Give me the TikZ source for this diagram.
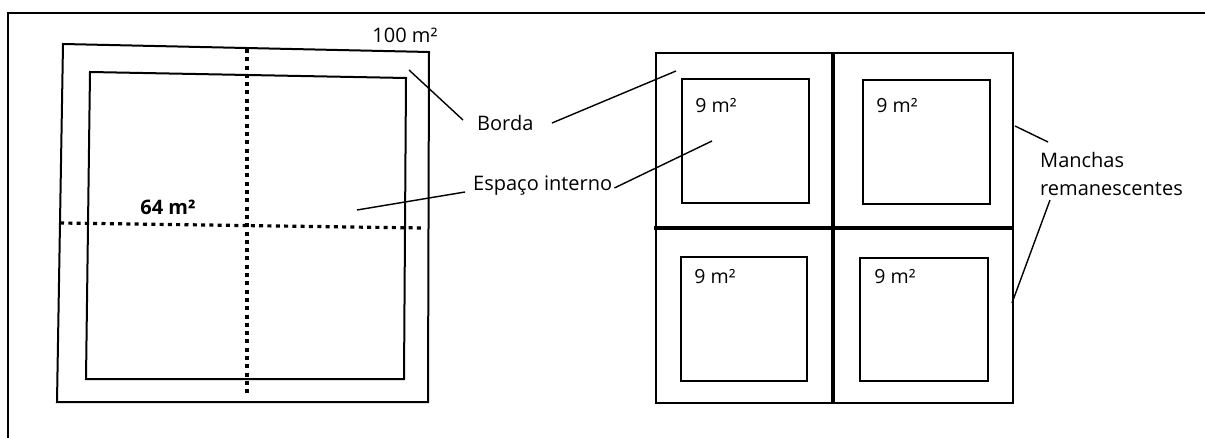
\documentclass[tikz,border=0pt]{standalone}
\usepackage{fontspec}
\setmainfont{Open Sans}
\begin{document}
\begin{tikzpicture}[x=1pt,y=-1pt,
  frame/.style={line width=2.6pt},
  sq/.style={line width=2pt},
  thickline/.style={line width=3.2pt},
  dotline/.style={line width=3.2pt,dash pattern=on 4pt off 4.3pt},
  leader/.style={line width=1.4pt},
  lbl/.style={font=\fontsize{20}{22}\selectfont,inner sep=0pt},
  arealbl/.style={font=\fontsize{19.5}{21}\selectfont,inner sep=0pt}]
\useasboundingbox (0,0) rectangle (1205,438);
% outer frame (open right and bottom)
\draw[frame] (8,440) -- (8,13) -- (1207,13);
% left figure
\draw[sq] (63,44) -- (429,52) -- (428,402) -- (57,402) -- cycle;
\draw[sq] (90,72) -- (406,78) -- (404,379) -- (86,379) -- cycle;
\coordinate (vtop) at (247,49);
\coordinate (vbot) at (247,396);
\coordinate (hl) at (60,223);
\coordinate (hr) at (423,228);
\draw[dotline] (vtop) -- (vbot);
\draw[dotline] (hl) -- (hr);
\node[lbl] (t100) at (405,35) {100 m²};
\node[lbl,font=\fontsize{20}{22}\selectfont\bfseries] (t64) at (168,207) {64 m²};
% right figure
\draw[sq] (656,53) rectangle (1013,403);
\draw[thickline] (833,53) -- (833,403);
\draw[thickline] (654,228) -- (1013,228);
\draw[sq] (682,79) rectangle (809,203);
\draw[sq] (863,80) rectangle (990,204);
\draw[sq] (681,257) rectangle (807,381);
\draw[sq] (860,258) rectangle (988,381);
\node[arealbl] (a1) at (716,106) {9 m²};
\node[arealbl] (a2) at (897,106) {9 m²};
\node[arealbl] (a3) at (715,277) {9 m²};
\node[arealbl] (a4) at (895,277) {9 m²};
% labels
\node[lbl,anchor=west] (borda) at (477,123) {Borda};
\node[lbl,anchor=west] (espaco) at (473,186) {Espaço interno};
\node[lbl,anchor=west] (manchas) at (1040,160) {Manchas};
\node[lbl,anchor=west] (reman) at (1040,189) {remanescentes};
% leader ends
\coordinate (b1) at (409,70);
\coordinate (b2) at (676,71);
\coordinate (e1) at (357,210);
\coordinate (e2) at (712,141);
\coordinate (m1) at (1015,126);
\coordinate (m2) at (1012,303);
\draw[leader] (b1) -- ([xshift=-14pt,yshift=3pt]borda.west);
\draw[leader] ([xshift=75pt]borda.west) -- (b2);
\draw[leader] (e1) -- ([xshift=-8pt,yshift=-6pt]espaco.west);
\draw[leader] ([xshift=2pt,yshift=-2pt]espaco.east) -- (e2);
\draw[leader] (m1) -- ([xshift=8pt,yshift=18pt]manchas.west);
\draw[leader] ([xshift=10pt,yshift=-11pt]reman.west) -- (m2);
\end{tikzpicture}
\end{document}
